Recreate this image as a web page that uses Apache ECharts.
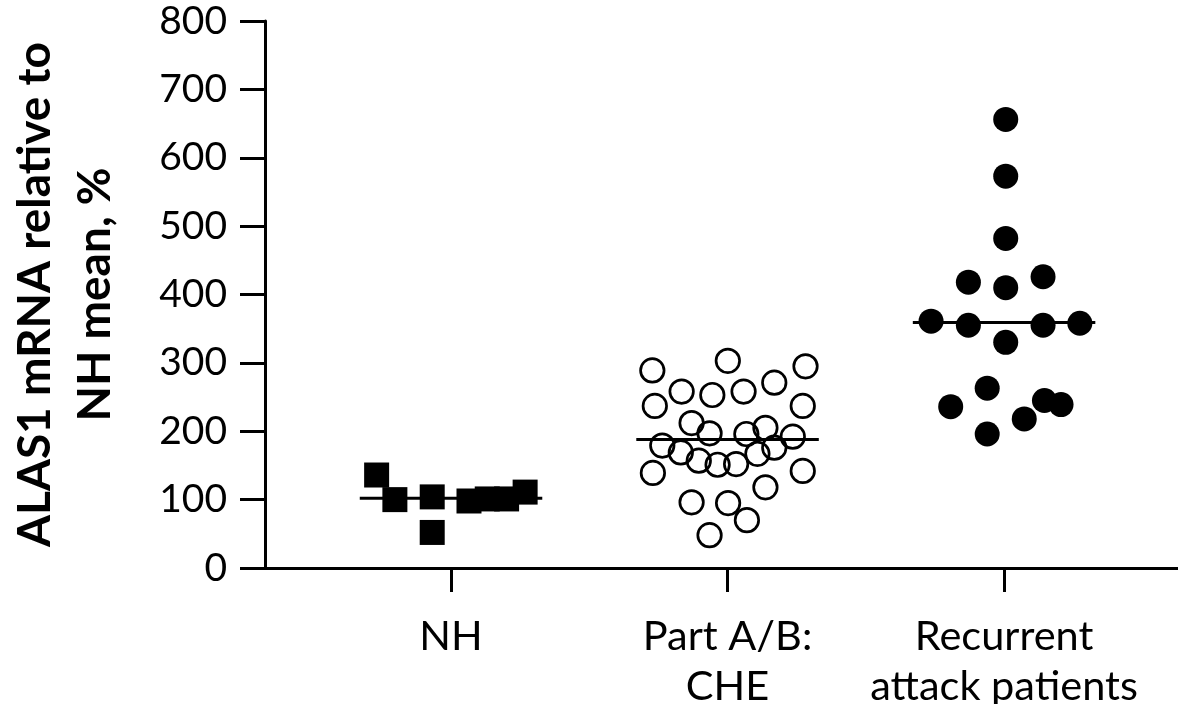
<!DOCTYPE html>
<html>
<head>
<meta charset="utf-8">
<script src="https://cdn.jsdelivr.net/npm/echarts@6/dist/echarts.min.js"></script>
<style>html,body{margin:0;padding:0;background:#fff}#c{width:1178px;height:704px}</style>
</head>
<body>
<div id="c"></div>
<script>
// Categories (x labels)
const categories = ['NH', 'Part A/B:\nCHE', 'Recurrent\nattack patients'];
const yTicks = [0, 100, 200, 300, 400, 500, 600, 700, 800];
const yTitle = 'ALAS1 mRNA relative to\nNH mean, %';

// Each point: [horizontal jitter offset from group centre, value %]
const nhPoints = [
  [-0.269, 136], [-0.203, 100], [-0.068, 104], [-0.068, 52],
  [0.065, 98], [0.131, 101], [0.201, 101], [0.268, 111]
];
const chePoints = [
  [-0.272, 289], [0.001, 303], [0.282, 295], [-0.166, 258], [-0.055, 253],
  [0.058, 258], [0.169, 271], [-0.263, 237], [0.272, 237], [-0.130, 212],
  [-0.065, 197], [0.068, 196], [0.137, 205], [-0.236, 179], [-0.169, 169],
  [0.236, 192], [-0.104, 157], [-0.036, 151], [0.031, 152], [0.108, 167],
  [0.169, 176], [-0.270, 139], [0.272, 142], [0.137, 118], [-0.130, 96],
  [0.002, 95], [0.070, 70], [-0.065, 48]
];
const recurrentPoints = [
  [0.006, 656], [0.006, 573], [0.006, 482], [-0.129, 418], [0.006, 410],
  [0.141, 426], [-0.264, 361], [-0.129, 355], [0.141, 355], [0.274, 358],
  [0.006, 330], [-0.061, 263], [-0.193, 236], [0.146, 245], [0.206, 239],
  [0.073, 218], [-0.061, 196]
];
const groupMeans = [102, 188, 359];

const groups = [nhPoints, chePoints, recurrentPoints];
const meanHalfWidth = 0.33;

const chart = echarts.init(document.getElementById('c'), null, {renderer: 'canvas'});

const toXY = (pts, gi) => pts.map(p => [gi + 1 + p[0], p[1]]);

const meanSeries = groupMeans.map((m, gi) => ({
  type: 'line',
  data: [[gi + 1 - meanHalfWidth, m], [gi + 1 + meanHalfWidth, m]],
  symbol: 'none',
  lineStyle: {color: '#000', width: 3},
  z: 5,
  silent: true
}));

const option = {
  animation: false,
  backgroundColor: '#fff',
  grid: {left: 265, right: 0, top: 21, bottom: 136, containLabel: false, outerBoundsMode: 'none'},
  xAxis: {
    type: 'value',
    min: 0.3273,
    max: 3.629,
    splitLine: {show: false},
    axisLine: {lineStyle: {color: '#000', width: 3}},
    axisTick: {show: true, customValues: [1, 2, 3], length: 24, lineStyle: {color: '#000', width: 3}},
    axisLabel: {
      show: true,
      customValues: [1, 2, 3],
      formatter: v => categories[Math.round(v) - 1],
      color: '#000',
      fontFamily: 'Lato',
      fontSize: 41.5,
      lineHeight: 50,
      margin: 44
    }
  },
  yAxis: {
    type: 'value',
    min: yTicks[0],
    max: yTicks[yTicks.length - 1],
    interval: 100,
    splitLine: {show: false},
    axisLine: {show: true, lineStyle: {color: '#000', width: 3}},
    axisTick: {show: true, length: 25, lineStyle: {color: '#000', width: 3}},
    axisLabel: {color: '#000', fontFamily: 'Lato', fontSize: 39, margin: 38},
    name: yTitle,
    nameLocation: 'middle',
    nameRotate: 90,
    nameGap: 140,
    nameTextStyle: {color: '#000', fontFamily: 'Lato', fontWeight: 'bold', fontSize: 46, lineHeight: 60}
  },
  series: [
    {
      type: 'scatter',
      data: toXY(groups[0], 0),
      symbol: 'rect',
      symbolSize: 25,
      itemStyle: {color: '#000', opacity: 1},
      z: 3
    },
    {
      type: 'scatter',
      data: toXY(groups[1], 1),
      symbol: 'circle',
      symbolSize: 23.5,
      itemStyle: {color: 'rgba(0,0,0,0)', borderColor: '#000', borderWidth: 2.7, opacity: 1},
      z: 3
    },
    {
      type: 'scatter',
      data: toXY(groups[2], 2),
      symbol: 'circle',
      symbolSize: 25,
      itemStyle: {color: '#000', opacity: 1},
      z: 3
    }
  ].concat(meanSeries)
};

chart.setOption(option);
</script>
</body>
</html>
